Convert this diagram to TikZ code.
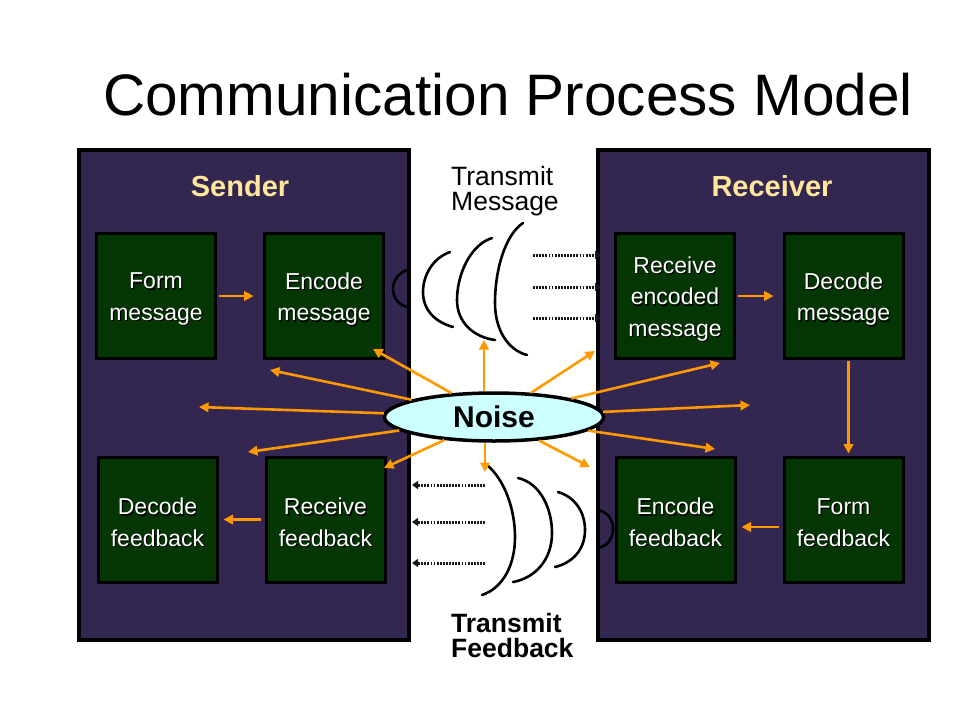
\documentclass[tikz,border=0pt]{standalone}
\usepackage{fontspec}
\setmainfont{Liberation Sans}
\usetikzlibrary{arrows.meta,shapes.geometric,calc}
\definecolor{panelc}{HTML}{332650}
\definecolor{boxc}{HTML}{033603}
\definecolor{orng}{HTML}{FF9900}
\definecolor{noisec}{HTML}{CCFFFF}
\definecolor{headc}{HTML}{FFE89C}
\newcommand\stepnode[4]{%
  \node[stepbox] (#1) at (#2,#3) {};
  \node[boxshadow] (#1s) at ([xshift=1.3pt,yshift=-4.3pt]#1.center) {#4};
  \node[boxtxt] (#1t) at ([yshift=-3pt]#1.center) {#4};
}
\begin{document}
\begin{tikzpicture}[x=1pt,y=-1pt,
  panel/.style={draw=black, line width=3.5pt, fill=panelc},
  stepbox/.style={draw=black, line width=3pt, fill=boxc, minimum width=119pt, minimum height=125pt, inner sep=0pt},
  boxtxt/.style={text=white, align=center, font=\fontsize{23}{31.5}\selectfont, inner sep=0pt},
  boxshadow/.style={boxtxt, text=black},
  oarr/.style={draw=orng, line width=2.6pt, -{Triangle[length=9.5pt,width=9.5pt]}},
  darr/.style={draw=black!90, line width=3pt, dash pattern=on 1.8pt off 1.3pt, -{Triangle[length=6pt,width=8pt]}},
  wave/.style={draw=black, line width=2.6pt, line cap=round},
  headlbl/.style={font=\bfseries\fontsize{29}{30}\selectfont, text=headc, anchor=base, inner sep=0pt},
  tlbl/.style={anchor=base west, inner sep=0pt, font=\fontsize{26.5}{27}\selectfont},
  tblbl/.style={anchor=base west, inner sep=0pt, font=\bfseries\fontsize{26.5}{27}\selectfont}
]
\fill[white] (0,0) rectangle (960,720);
\useasboundingbox (0,0) rectangle (960,720);

% title
\node[font=\fontsize{58.5}{60}\selectfont, anchor=base, inner sep=0pt] (title) at (508,115) {Communication Process Model};

% panels
\path[panel] (79,150) rectangle (409,640);
\path[panel] (598,150) rectangle (929,640);

\node[headlbl] (sendlbl) at (240,196) {Sender};
\node[headlbl] (recvlbl) at (772,196) {Receiver};

% boxes
\stepnode{form}{156}{296}{Form\\message}
\stepnode{enc}{324}{296}{Encode\\message}
\stepnode{dfb}{157.5}{519.5}{Decode\\feedback}
\stepnode{rfb}{325.5}{519.5}{Receive\\feedback}
\stepnode{renc}{675}{296}{Receive\\encoded\\message}
\stepnode{dmsg}{843.5}{296}{Decode\\message}
\stepnode{efb}{675.5}{519.5}{Encode\\feedback}
\stepnode{ffb}{843.5}{519.5}{Form\\feedback}

% process arrows
\draw[oarr, shorten <=2pt, shorten >=9.5pt] (form.east) -- (enc.west);
\draw[oarr, shorten <=2pt, shorten >=9pt] (renc.east) -- (dmsg.west);
\draw[oarr, shorten <=1pt, shorten >=2pt] ([xshift=5pt]dmsg.south) -- ([xshift=5pt]ffb.north);
\draw[oarr, shorten <=4pt, shorten >=5pt] ([yshift=-7.5pt]ffb.west) -- ([yshift=-7.5pt]efb.east);
\draw[oarr, shorten <=4pt, shorten >=5pt] (rfb.west) -- (dfb.east);

% transmit message waves
\draw[wave] (407,270) .. controls (398,273) and (393,281) .. (393,289) .. controls (393,298) and (399,305) .. (407,307);
\draw[wave] (450,252) .. controls (433,258) and (423,275) .. (423,292) .. controls (423,310) and (435,322) .. (453,327);
\draw[wave] (492,238) .. controls (470,245) and (457,275) .. (457,300) .. controls (457,322) and (473,337) .. (495,340);
\draw[wave] (523,223) .. controls (505,235) and (495,270) .. (495,303) .. controls (495,330) and (508,350) .. (527,355);

% transmit feedback waves
\draw[wave] (487,465) .. controls (505,480) and (515,510) .. (515,537) .. controls (515,565) and (503,588) .. (482,595);
\draw[wave] (518,478) .. controls (540,483) and (552,508) .. (552,533) .. controls (552,560) and (535,578) .. (513,582);
\draw[wave] (558,492) .. controls (575,497) and (585,512) .. (585,530) .. controls (585,550) and (572,563) .. (555,567);
\draw[wave] (598,510) .. controls (608,512) and (613,520) .. (613,529) .. controls (613,539) and (607,546) .. (598,548);

% dotted transmission arrows
\coordinate (tm1a) at (533,255); \coordinate (tm1b) at (601,255);
\coordinate (tm2a) at (533,287); \coordinate (tm2b) at (601,287);
\coordinate (tm3a) at (533,318); \coordinate (tm3b) at (601,318);
\draw[darr] (tm1a) -- (tm1b);
\draw[darr] (tm2a) -- (tm2b);
\draw[darr] (tm3a) -- (tm3b);
\coordinate (fb1a) at (485,485); \coordinate (fb1b) at (412,485);
\coordinate (fb2a) at (485,522); \coordinate (fb2b) at (412,522);
\coordinate (fb3a) at (485,563); \coordinate (fb3b) at (412,563);
\draw[darr] (fb1a) -- (fb1b);
\draw[darr] (fb2a) -- (fb2b);
\draw[darr] (fb3a) -- (fb3b);

% transmit labels
\node[tlbl] (tm1) at (451,185) {Transmit};
\node[tlbl] (tm2) at (451,210) {Message};
\node[tblbl] (tf1) at (451,632) {Transmit};
\node[tblbl] (tf2) at (451,657) {Feedback};

% noise
\coordinate (n1) at (484,340);
\coordinate (n2) at (373,349);
\coordinate (n3) at (270,370);
\coordinate (n4) at (199,407);
\coordinate (n5) at (248,452);
\coordinate (n6) at (384,468);
\coordinate (n7) at (485,472);
\coordinate (n8) at (590,467);
\coordinate (n9) at (715,449);
\coordinate (n10) at (750,405);
\coordinate (n11) at (720,363);
\coordinate (n12) at (595,351);
\node[ellipse, draw=black, line width=3.5pt, fill=noisec, minimum width=219pt, minimum height=48pt, inner sep=0pt, font=\bfseries\fontsize{30}{30}\selectfont] (noise) at (494,417) {Noise};
\draw[oarr] (n1 |- noise.north) -- (n1);
\draw[oarr] (n7 |- noise.south) -- (n7);
\foreach \t in {n2,n3,n4,n5,n6,n8,n9,n10,n11,n12} {
  \draw[oarr] (noise) -- (\t);
}
\end{tikzpicture}
\end{document}
